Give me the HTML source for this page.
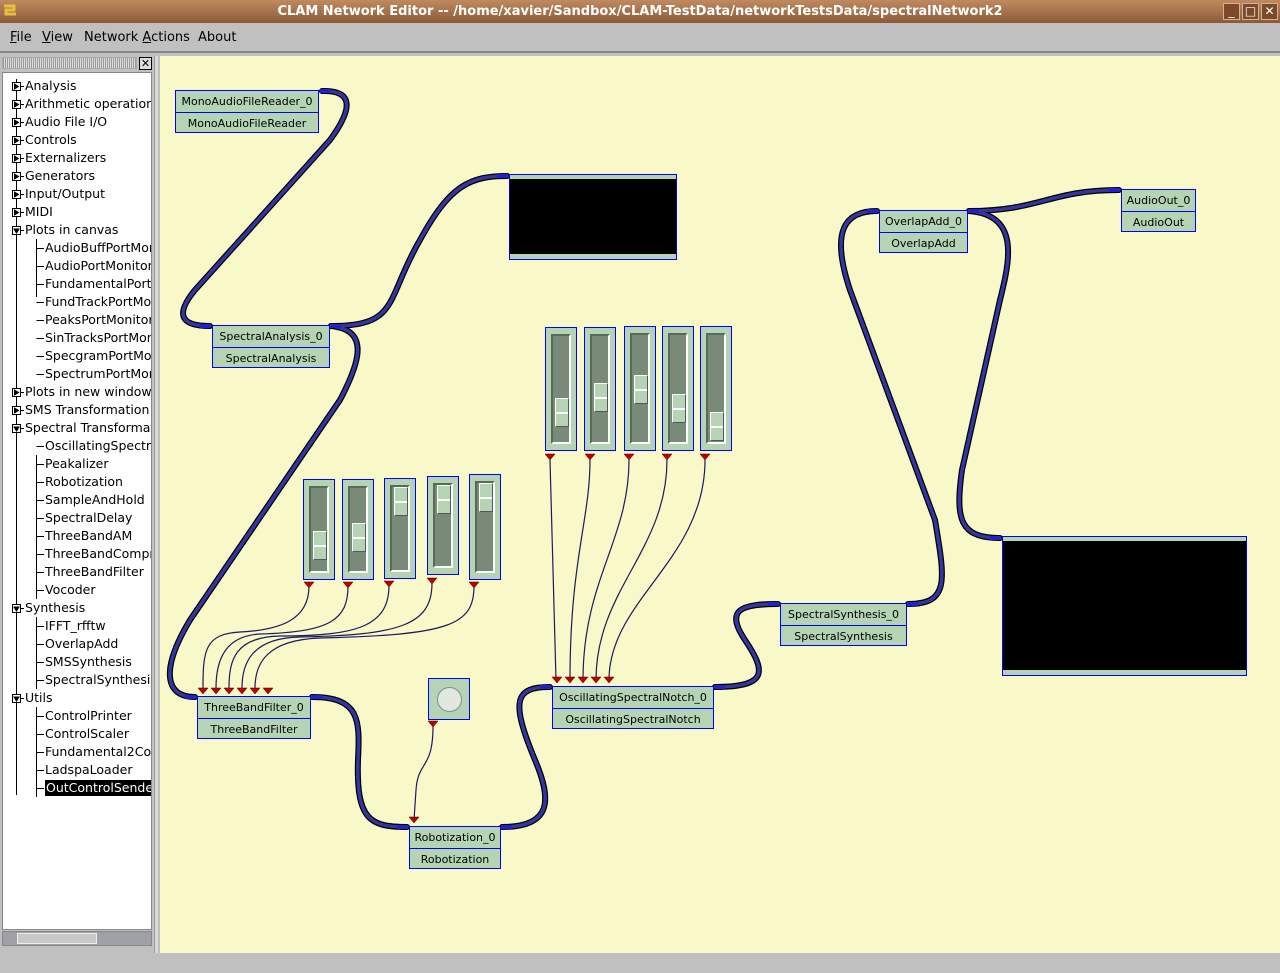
<!DOCTYPE html>
<html><head><meta charset="utf-8"><style>
*{margin:0;padding:0;box-sizing:border-box}
body{width:1280px;height:973px;overflow:hidden;background:#c0c0c0;font-family:"DejaVu Sans","Liberation Sans",sans-serif;position:relative}
.a{position:absolute}
#title{left:0;top:0;width:1280px;height:23px;background:linear-gradient(#c08a60,#8a5a38);color:#fff;font-weight:bold;font-size:13px;text-align:center;line-height:23px}
.wb{top:3px;width:17px;height:17px;border:1px solid #d8b090;background:#7a4a2a;color:#fff;font-size:12px;line-height:15px;text-align:center}
#menu{left:0;top:23px;width:1280px;height:30px;background:#c0c0c0;border-bottom:2px solid #888;font-size:13px;line-height:29px}
#menu span{position:absolute;top:0}
#tree{left:2px;top:72px;width:150px;height:858px;background:#fff;border:1px solid #888;overflow:hidden;font-size:12.5px}
.t{position:absolute;white-space:nowrap;line-height:16px}
#canvas{left:160px;top:56px;width:1120px;height:897px;background:#f8f8c8}
.node{position:absolute;border:1px solid #0000ff;background:#b4d4b4;font-size:11px;text-align:center}
.node div{height:21px;line-height:21px}
.node div+div{border-top:1px solid #0000ff}
.sl{position:absolute;border:1px solid #0000ff;background:#b4d4b4}
.tr{position:absolute;left:5px;right:5px;top:6px;bottom:6px;background:#7a8a78;border-top:2px solid #5a6a58;border-left:2px solid #5a6a58;border-right:2px solid #fff;border-bottom:2px solid #fff}
.th{position:absolute;left:2px;width:14px;height:29px;background:#b4d4b4;border:1px solid #fff;border-right-color:#556;border-bottom-color:#556}
.th:after{content:"";position:absolute;left:0;right:0;top:13px;height:2px;background:#fff}
</style></head><body>
<div id="title" class="a">CLAM Network Editor -- /home/xavier/Sandbox/CLAM-TestData/networkTestsData/spectralNetwork2</div>
<div class="a" style="left:2px;top:3px;width:16px;height:16px;"><svg width="16" height="16"><path d="M2 3h10v4H4v4h10" stroke="#e8c040" stroke-width="3" fill="none"/></svg></div>
<div class="a wb" style="left:1223px">_</div><div class="a wb" style="left:1242px">□</div><div class="a wb" style="left:1261px">✕</div>
<div id="menu" class="a"><span style="left:10px"><u>F</u>ile</span><span style="left:42px"><u>V</u>iew</span><span style="left:84px">Network <u>A</u>ctions</span><span style="left:198px">About</span></div>
<div class="a" style="left:2px;top:57px;width:135px;height:12px;background:repeating-linear-gradient(90deg,#999 0 1px,#ddd 1px 2px);border:1px solid #aaa"></div>
<div class="a" style="left:139px;top:57px;width:13px;height:13px;border:1px solid #000;background:#ddd;font-size:11px;line-height:11px;text-align:center;font-weight:bold">✕</div>
<div class="a" style="left:154px;top:56px;width:4px;height:897px;background:#d8d8d8;border-left:1px solid #999"></div>
<div id="tree" class="a">
<svg class="a" style="left:0;top:0" width="150" height="740">
<g stroke="#000" stroke-width="1" fill="none">
<path d="M13.5 6V722"/>
<path d="M33.5 166V224M33.5 382V526M33.5 544V616M33.5 634V724"/>
<g id="c"></g>
</g></svg>
</div>
<div id="canvas" class="a"></div>
<svg class="a" style="left:0;top:0" width="1280" height="973">
<g fill="none" stroke-linecap="round">
<g stroke="#000" stroke-width="6">
<path id="w1" d="M322,91 C355,90 352,110 330,140 L195,290 C172,318 185,326 210,326"/>
<path id="w2" d="M331,326 C400,326 385,300 420,240 C450,185 470,176 507,176"/>
<path id="w3" d="M331,326 C370,330 360,362 340,400 L190,620 C160,670 165,697 195,697"/>
<path id="w4" d="M312,697 C360,697 360,720 358,760 C356,820 370,827 407,827"/>
<path id="w5" d="M502,827 C552,827 552,800 535,760 C510,700 515,687 550,687"/>
<path id="w6" d="M715,687 C770,687 765,670 745,640 C725,610 740,604 778,604"/>
<path id="w7" d="M908,604 C950,604 945,580 935,520 L850,290 C830,230 845,211 877,211"/>
<path id="w8" d="M969,211 C1040,211 1050,190 1119,190"/>
<path id="w9" d="M969,211 C1020,215 1010,260 1000,300 L962,470 C955,520 960,538 1000,538"/>
</g>
<g stroke="#3535a0" stroke-width="3.5">
<use href="#w1"/><use href="#w2"/><use href="#w3"/><use href="#w4"/><use href="#w5"/><use href="#w6"/><use href="#w7"/><use href="#w8"/><use href="#w9"/>
</g>
<g stroke="#1a1a60" stroke-width="1.2">
<path d="M309,586 C309,620 280,630 240,632 C205,634 203,650 203,688"/>
<path d="M348,586 C348,620 330,632 260,634 C225,636 216,660 216,688"/>
<path d="M389,585 C389,625 360,636 280,636 C235,637 229,660 229,688"/>
<path d="M432,583 C432,625 400,635 300,637 C250,638 242,665 242,688"/>
<path d="M474,586 C474,625 450,635 320,638 C265,640 255,665 255,688"/>
<path d="M550,460 L556,680"/>
<path d="M590,460 C590,520 570,560 570,680"/>
<path d="M629,460 C629,540 583,580 583,680"/>
<path d="M667,460 C667,550 596,590 596,680"/>
<path d="M705,460 C705,560 609,600 609,680"/>
<path d="M433,726 C433,770 418,760 416,790 L414,820"/>
</g>
</g>
<g fill="#c00000" stroke="#400" stroke-width=".5">
<path d="M304,582h10l-5,6z"/><path d="M343,582h10l-5,6z"/><path d="M384,581h10l-5,6z"/><path d="M427,578h10l-5,6z"/><path d="M469,582h10l-5,6z"/>
<path d="M545,454h10l-5,6z"/><path d="M585,454h10l-5,6z"/><path d="M624,454h10l-5,6z"/><path d="M662,454h10l-5,6z"/><path d="M700,454h10l-5,6z"/>
<path d="M198,688h10l-5,6z"/><path d="M211,688h10l-5,6z"/><path d="M224,688h10l-5,6z"/><path d="M237,688h10l-5,6z"/><path d="M250,688h10l-5,6z"/><path d="M263,688h10l-5,6z"/>
<path d="M552,677h10l-5,6z"/><path d="M565,677h10l-5,6z"/><path d="M578,677h10l-5,6z"/><path d="M591,677h10l-5,6z"/><path d="M604,677h10l-5,6z"/>
<path d="M428,721h10l-5,6z"/><path d="M409,817h10l-5,6z"/>
</g>
<g fill="#2020d0">
<rect x="320" y="89" width="10" height="4"/><rect x="200" y="324" width="10" height="4"/><rect x="331" y="324" width="10" height="4"/>
<rect x="185" y="695" width="10" height="4"/><rect x="312" y="695" width="10" height="4"/><rect x="397" y="825" width="10" height="4"/>
<rect x="502" y="825" width="10" height="4"/><rect x="540" y="685" width="10" height="4"/><rect x="715" y="685" width="10" height="4"/>
<rect x="768" y="602" width="10" height="4"/><rect x="908" y="602" width="10" height="4"/><rect x="867" y="209" width="10" height="4"/>
<rect x="969" y="209" width="10" height="4"/><rect x="1109" y="188" width="10" height="4"/><rect x="497" y="174" width="10" height="4"/><rect x="990" y="536" width="10" height="4"/>
</g>
</svg>
<div class="node" style="left:175px;top:90px;width:144px;height:43px"><div>MonoAudioFileReader_0</div><div>MonoAudioFileReader</div></div>
<div class="node" style="left:212px;top:325px;width:118px;height:43px"><div>SpectralAnalysis_0</div><div>SpectralAnalysis</div></div>
<div class="node" style="left:879px;top:210px;width:89px;height:43px"><div>OverlapAdd_0</div><div>OverlapAdd</div></div>
<div class="node" style="left:1121px;top:189px;width:75px;height:43px"><div>AudioOut_0</div><div>AudioOut</div></div>
<div class="node" style="left:780px;top:603px;width:127px;height:43px"><div>SpectralSynthesis_0</div><div>SpectralSynthesis</div></div>
<div class="node" style="left:552px;top:686px;width:162px;height:43px"><div>OscillatingSpectralNotch_0</div><div>OscillatingSpectralNotch</div></div>
<div class="node" style="left:197px;top:696px;width:114px;height:43px"><div>ThreeBandFilter_0</div><div>ThreeBandFilter</div></div>
<div class="node" style="left:409px;top:826px;width:92px;height:43px"><div>Robotization_0</div><div>Robotization</div></div>
<div class="a" style="left:509px;top:174px;width:168px;height:86px;border:1px solid #0000ff;background:#b4d4b4"><div style="position:absolute;left:0;right:0;top:4px;height:75px;background:#000"></div></div>
<div class="a" style="left:1002px;top:536px;width:245px;height:140px;border:1px solid #0000ff;background:#b4d4b4"><div style="position:absolute;left:0;right:0;top:4px;height:129px;background:#000"></div></div>
<div class="a" style="left:428px;top:678px;width:42px;height:42px;border:1px solid #0000ff;background:#b4d4b4"><div style="position:absolute;left:8px;top:8px;width:25px;height:25px;border-radius:50%;background:#e0e8e0;border:1px solid #889"></div></div>
<div class="sl" style="left:545px;top:327px;width:32px;height:124px"><div class="tr"><div class="th" style="top:62px"></div></div></div>
<div class="sl" style="left:584px;top:327px;width:32px;height:124px"><div class="tr"><div class="th" style="top:47px"></div></div></div>
<div class="sl" style="left:624px;top:326px;width:32px;height:125px"><div class="tr"><div class="th" style="top:40px"></div></div></div>
<div class="sl" style="left:662px;top:326px;width:32px;height:125px"><div class="tr"><div class="th" style="top:59px"></div></div></div>
<div class="sl" style="left:700px;top:326px;width:32px;height:125px"><div class="tr"><div class="th" style="top:77px"></div></div></div>
<div class="sl" style="left:303px;top:479px;width:32px;height:101px"><div class="tr"><div class="th" style="top:43px"></div></div></div>
<div class="sl" style="left:342px;top:479px;width:32px;height:101px"><div class="tr"><div class="th" style="top:35px"></div></div></div>
<div class="sl" style="left:384px;top:478px;width:32px;height:101px"><div class="tr"><div class="th" style="top:0px"></div></div></div>
<div class="sl" style="left:427px;top:476px;width:32px;height:99px"><div class="tr"><div class="th" style="top:0px"></div></div></div>
<div class="sl" style="left:469px;top:474px;width:32px;height:106px"><div class="tr"><div class="th" style="top:0px"></div></div></div>
<div class="a" style="left:2px;top:931px;width:150px;height:15px;background:#a0a0a8;border:1px solid #888"><div style="position:absolute;left:14px;top:1px;width:80px;height:11px;background:#c8c8c8;border:1px solid #eee"></div></div>
<div class="a" style="left:0;top:953px;width:1280px;height:20px;background:#c0c0c0"></div>
<script>
var items=[["Analysis",0,1],["Arithmetic operation",0,1],["Audio File I/O",0,1],["Controls",0,1],["Externalizers",0,1],["Generators",0,1],["Input/Output",0,1],["MIDI",0,1],["Plots in canvas",0,2],["AudioBuffPortMonitor",1],["AudioPortMonitor",1],["FundamentalPortMonitor",1],["FundTrackPortMonitor",1],["PeaksPortMonitor",1],["SinTracksPortMonitor",1],["SpecgramPortMonitor",1],["SpectrumPortMonitor",1],["Plots in new windows",0,1],["SMS Transformation",0,1],["Spectral Transformations",0,2],["OscillatingSpectralNotch",1],["Peakalizer",1],["Robotization",1],["SampleAndHold",1],["SpectralDelay",1],["ThreeBandAM",1],["ThreeBandCompressor",1],["ThreeBandFilter",1],["Vocoder",1],["Synthesis",0,2],["IFFT_rfftw",1],["OverlapAdd",1],["SMSSynthesis",1],["SpectralSynthesis",1],["Utils",0,2],["ControlPrinter",1],["ControlScaler",1],["Fundamental2Control",1],["LadspaLoader",1],["OutControlSender",1]];
var tr=document.getElementById('tree'),c=document.getElementById('c'),h='',s='';
items.forEach(function(it,i){var y=5+i*18;var x=it[1]?42:22;
var st=(i==items.length-1)?'background:#000;color:#fff;padding:0 1px;':'';
h+='<div class="t" style="left:'+x+'px;top:'+y+'px;'+st+'">'+it[0]+'</div>';
var cy=y+8.5;
if(it[1]){s+='<path d="M33.5 '+cy+'H41"/>';}else{s+='<rect x="9.5" y="'+(cy-4)+'" width="8" height="8" fill="#fff"/><path d="M17.5 '+cy+'H21"/>';
s+=it[2]==1?'<path d="M11.5 '+(cy-2.5)+'l4 2.5l-4 2.5z" fill="#000"/>':'<path d="M11 '+(cy-1.5)+'h5l-2.5 4z" fill="#000"/>';}
});
tr.insertAdjacentHTML('beforeend',h);c.innerHTML=s;
</script>
</body></html>
